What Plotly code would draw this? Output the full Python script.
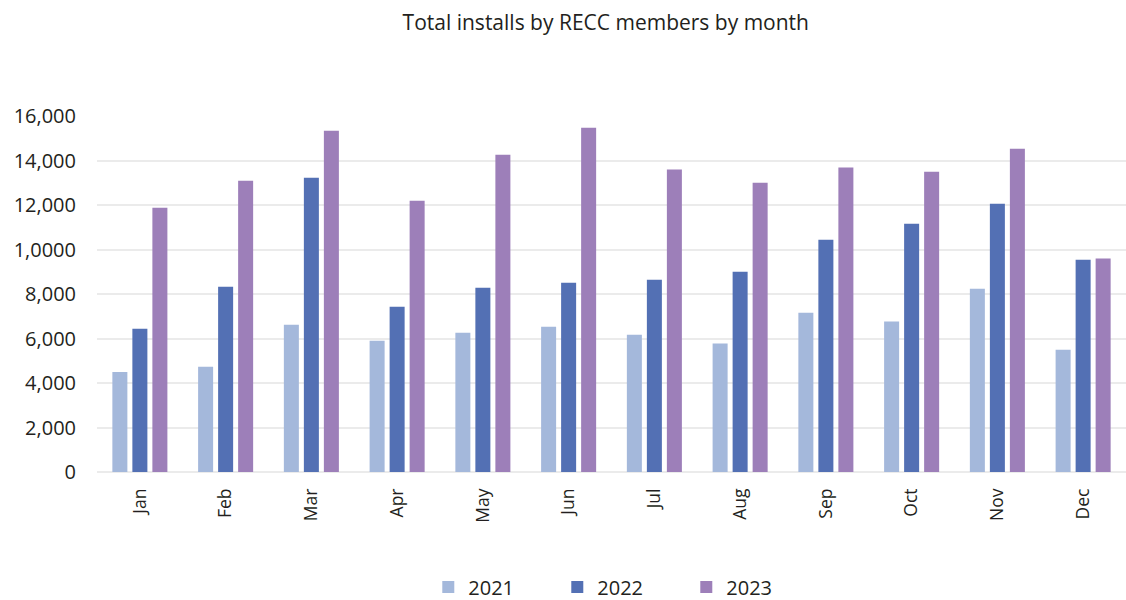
import plotly.graph_objects as go

months = ["Jan", "Feb", "Mar", "Apr", "May", "Jun", "Jul", "Aug", "Sep", "Oct", "Nov", "Dec"]
installs_2021 = [4500, 4730, 6620, 5900, 6260, 6530, 6170, 5770, 7160, 6760, 8240, 5500]
installs_2022 = [6440, 8330, 13230, 7430, 8280, 8510, 8640, 9000, 10440, 11160, 12060, 9540]
installs_2023 = [11880, 13090, 15340, 12190, 14260, 15470, 13590, 13000, 13680, 13500, 14530, 9590]
y_ticks = [0, 2000, 4000, 6000, 8000, 10000, 12000, 14000, 16000]
y_tick_text = ["0", "2,000", "4,000", "6,000", "8,000", "1,0000", "12,000", "14,000", "16,000"]

TEXT = "#231f20"
GRID = "#ebebeb"
FONT = "Open Sans"

fig = go.Figure()
for name, vals, color in [
    ("2021", installs_2021, "#a4b8db"),
    ("2022", installs_2022, "#5370b4"),
    ("2023", installs_2023, "#9d7fb9"),
]:
    fig.add_trace(go.Bar(x=months, y=vals, name=name, marker=dict(color=color, line=dict(width=0))))

fig.update_layout(
    width=1126,
    height=600,
    paper_bgcolor="white",
    plot_bgcolor="white",
    barmode="group",
    bargap=0.30,
    bargroupgap=0.25,
    margin=dict(l=97, r=0, t=116, b=128, autoexpand=False),
    font=dict(family=FONT, color=TEXT),
    title=dict(
        text="Total installs by RECC members by month",
        x=0.538, xanchor="center", y=0.962, yanchor="middle",
        font=dict(family=FONT, size=21, color=TEXT),
    ),
    legend=dict(
        orientation="h", x=0.51, xanchor="center", y=-0.323, yanchor="middle",
        font=dict(family=FONT, size=20, color=TEXT),
        traceorder="normal",
        entrywidth=84,
        itemwidth=30,
    ),
    showlegend=True,
)

fig.update_xaxes(
    tickangle=-90,
    tickfont=dict(family=FONT, size=17.5, color=TEXT),
    showgrid=False,
    showline=False,
    ticks="",
    ticklabelstandoff=12,
    automargin=False,
)
fig.update_yaxes(
    range=[0, 16000],
    tickvals=y_ticks,
    ticktext=y_tick_text,
    tickfont=dict(family=FONT, size=20, color=TEXT),
    showgrid=True,
    gridcolor=GRID,
    gridwidth=2,
    zeroline=True,
    zerolinecolor=GRID,
    zerolinewidth=2,
    showline=False,
    ticks="",
    ticklabelstandoff=20,
    automargin=False,
)

fig.write_html("out.html")
